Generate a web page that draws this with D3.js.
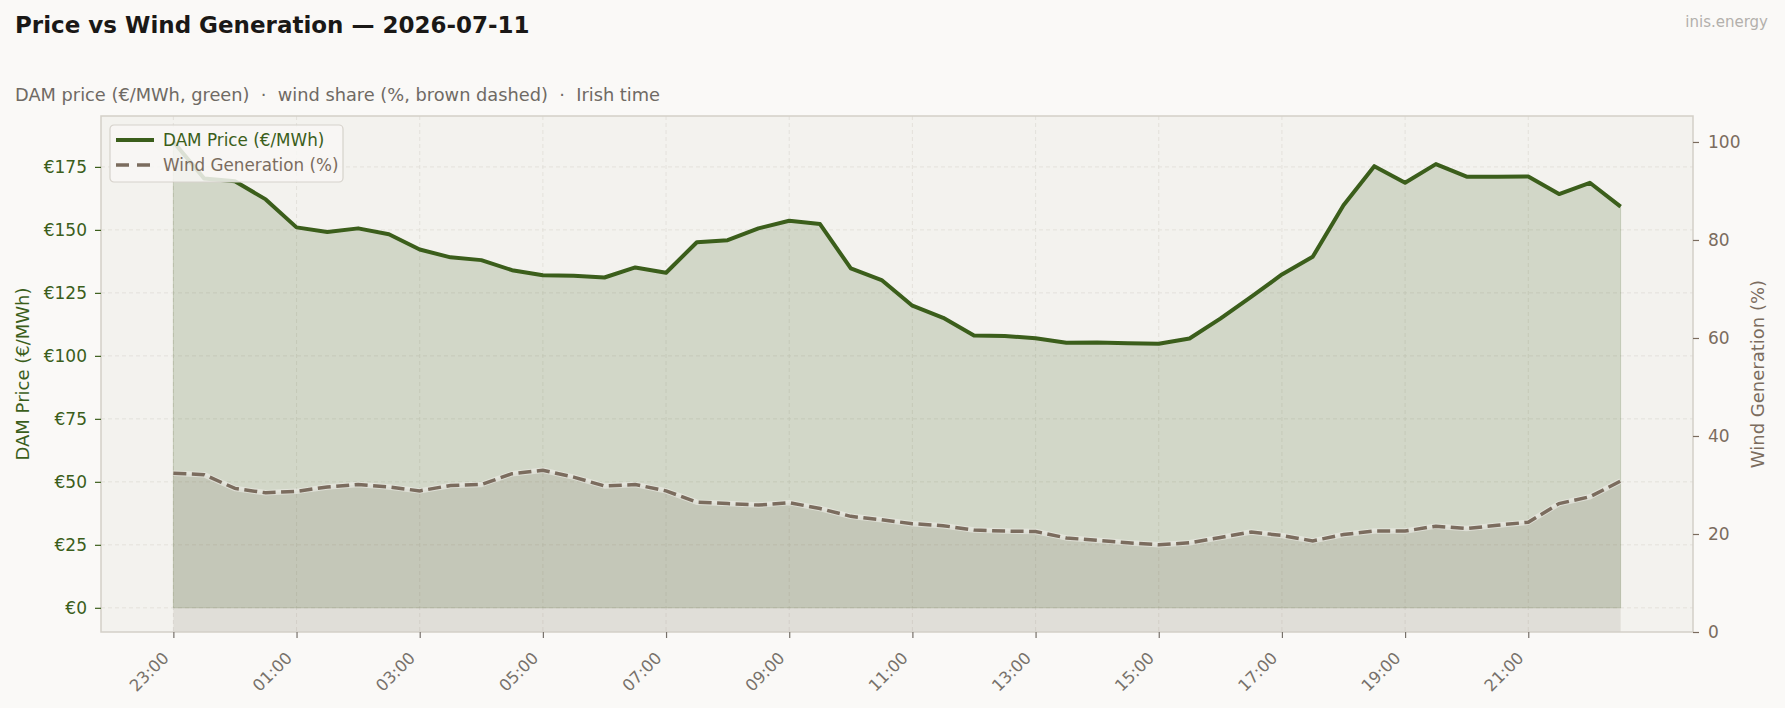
<!DOCTYPE html>
<html>
<head>
<meta charset="utf-8">
<script src="https://cdn.jsdelivr.net/npm/d3@7"></script>
<style>
  body { margin: 0; background: #faf9f7; }
  svg { display: block; font-family: "DejaVu Sans", sans-serif; }
</style>
</head>
<body>
<div id="dvBody"></div>
<script>
// half-hour slots, Irish time
var horas = ["23:00","23:30","00:00","00:30","01:00","01:30","02:00","02:30","03:00","03:30",
  "04:00","04:30","05:00","05:30","06:00","06:30","07:00","07:30","08:00","08:30",
  "09:00","09:30","10:00","10:30","11:00","11:30","12:00","12:30","13:00","13:30",
  "14:00","14:30","15:00","15:30","16:00","16:30","17:00","17:30","18:00","18:30",
  "19:00","19:30","20:00","20:30","21:00","21:30","22:00","22:30"];

// DAM price (€/MWh)
var precios = [185.0, 170.4, 169.3, 162.1, 151.0, 149.2, 150.6, 148.3, 142.2, 139.1,
  138.0, 134.0, 132.0, 131.8, 131.1, 135.1, 133.0, 145.1, 145.9, 150.6,
  153.6, 152.3, 134.7, 130.1, 119.9, 115.1, 108.1, 107.9, 107.0, 105.2,
  105.3, 105.0, 104.8, 106.9, 114.8, 123.4, 132.3, 139.3, 159.8, 175.3,
  168.7, 176.1, 171.1, 171.1, 171.2, 164.2, 168.7, 159.2];

// wind share (%)
var eolica = [32.4, 32.1, 29.3, 28.4, 28.7, 29.6, 30.1, 29.6, 28.8, 29.9,
  30.1, 32.3, 33.0, 31.6, 29.8, 30.1, 28.8, 26.5, 26.2, 25.9,
  26.4, 25.2, 23.6, 22.9, 22.1, 21.7, 20.8, 20.6, 20.5, 19.2,
  18.7, 18.2, 17.8, 18.2, 19.3, 20.4, 19.7, 18.6, 19.9, 20.6,
  20.6, 21.6, 21.1, 21.8, 22.4, 26.2, 27.6, 30.8];

// tick labels
var ticksPrecio = [0, 25, 50, 75, 100, 125, 150, 175];
var ticksEolica = [0, 20, 40, 60, 80, 100];
var ticksHora = ["23:00","01:00","03:00","05:00","07:00","09:00","11:00","13:00","15:00","17:00","19:00","21:00"];

var verde = "#3b5e1b", marron = "#7b6c5e", gris = "#77716a";

var W = 1785, H = 708;
var margin = {top: 116, right: 92, bottom: 76, left: 101},
    width = W - margin.left - margin.right,
    height = H - margin.top - margin.bottom;

var datos = horas.map(function(h, i) { return {hora: h, i: i, precio: precios[i], eolica: eolica[i]}; });

var svg = d3.select("#dvBody")
  .append("svg")
  .attr("width", W)
  .attr("height", H);

// titles
svg.append("text")
  .attr("x", 15).attr("y", 33)
  .style("font-size", "23px").style("font-weight", "bold").attr("fill", "#1a1816")
  .text("Price vs Wind Generation \u2014 2026-07-11");

svg.append("text")
  .attr("x", 15).attr("y", 101)
  .style("font-size", "17.8px").style("white-space", "pre").attr("fill", "#6f6a64")
  .text("DAM price (\u20ac/MWh, green)  \u00b7  wind share (%, brown dashed)  \u00b7  Irish time");

svg.append("text")
  .attr("x", 1768).attr("y", 27)
  .attr("text-anchor", "end")
  .style("font-size", "15px").attr("fill", "#b3b0ac")
  .text("inis.energy");

var g = svg.append("g")
  .attr("transform", "translate(" + margin.left + "," + margin.top + ")");

// scales
var x = d3.scaleLinear().domain([-2.35, 49.35]).range([0, width]);
var yPrecio = d3.scaleLinear().domain([-9.6, 195.2]).range([height, 0]);
var yEolica = d3.scaleLinear().domain([0, 105.3]).range([height, 0]);
var xHora = function(lbl) { return x(horas.indexOf(lbl)); };

// plot background
g.append("rect")
  .attr("width", width).attr("height", height)
  .attr("fill", "#f3f2ee");

// grid
g.append("g")
  .selectAll("line")
  .data(ticksHora)
  .join("line")
  .attr("x1", d => xHora(d)).attr("x2", d => xHora(d))
  .attr("y1", 0).attr("y2", height)
  .attr("stroke", "#e0ddd7").attr("stroke-width", 0.8).attr("stroke-dasharray", "4,3");

g.append("g")
  .selectAll("line")
  .data(ticksPrecio)
  .join("line")
  .attr("x1", 0).attr("x2", width)
  .attr("y1", d => yPrecio(d)).attr("y2", d => yPrecio(d))
  .attr("stroke", "#e0ddd7").attr("stroke-width", 0.8).attr("stroke-dasharray", "4,3");

// price area
g.append("path")
  .datum(datos)
  .attr("fill", verde).attr("fill-opacity", 0.18)
  .attr("stroke", verde).attr("stroke-opacity", 0.18).attr("stroke-width", 1)
  .attr("d", d3.area()
    .x(d => x(d.i))
    .y0(yPrecio(0))
    .y1(d => yPrecio(d.precio)));

// wind area
g.append("path")
  .datum(datos)
  .attr("fill", marron).attr("fill-opacity", 0.15)
  .attr("d", d3.area()
    .x(d => x(d.i))
    .y0(yEolica(0))
    .y1(d => yEolica(d.eolica)));

// wind line (light halo + dashes)
var lineaEolica = d3.line().x(d => x(d.i)).y(d => yEolica(d.eolica));
g.append("path")
  .datum(datos)
  .attr("fill", "none").attr("stroke", "#eeede8").attr("stroke-opacity", 0.6)
  .attr("stroke-width", 5.5).attr("stroke-linejoin", "round")
  .attr("d", lineaEolica);
g.append("path")
  .datum(datos)
  .attr("fill", "none").attr("stroke", marron)
  .attr("stroke-width", 3.5).attr("stroke-dasharray", "13,5.5")
  .attr("d", lineaEolica);

// price line
g.append("path")
  .datum(datos)
  .attr("fill", "none").attr("stroke", verde)
  .attr("stroke-width", 4).attr("stroke-linejoin", "round")
  .attr("d", d3.line().x(d => x(d.i)).y(d => yPrecio(d.precio)));

// spines
g.append("rect")
  .attr("width", width).attr("height", height)
  .attr("fill", "none").attr("stroke", "#d3cfc8").attr("stroke-width", 1.5);

// left axis
var ejeIzq = g.append("g")
  .call(d3.axisLeft(yPrecio).tickValues(ticksPrecio).tickSize(6).tickPadding(8)
    .tickFormat(d => "\u20ac" + d));
ejeIzq.select(".domain").remove();
ejeIzq.selectAll("line").attr("stroke", verde).attr("stroke-width", 1.2);
ejeIzq.selectAll("text").attr("fill", verde).style("font-size", "17px")
  .style("font-family", "DejaVu Sans");

// right axis
var ejeDer = g.append("g")
  .attr("transform", "translate(" + width + ",0)")
  .call(d3.axisRight(yEolica).tickValues(ticksEolica).tickSize(6).tickPadding(9));
ejeDer.select(".domain").remove();
ejeDer.selectAll("line").attr("stroke", marron).attr("stroke-width", 1.2);
ejeDer.selectAll("text").attr("fill", marron).style("font-size", "17px")
  .style("font-family", "DejaVu Sans");

// bottom axis
var ejeX = g.append("g")
  .attr("transform", "translate(0," + height + ")")
  .call(d3.axisBottom(x).tickValues(ticksHora.map(h => horas.indexOf(h))).tickSize(6)
    .tickFormat(d => horas[d]));
ejeX.select(".domain").remove();
ejeX.selectAll("line").attr("stroke", gris).attr("stroke-width", 1.2);
ejeX.selectAll("text")
  .attr("fill", gris).style("font-size", "16.4px").style("font-family", "DejaVu Sans")
  .attr("text-anchor", "end")
  .attr("x", -4).attr("y", 27).attr("dy", 0)
  .attr("transform", "rotate(-45,-4,27)");

// axis titles
svg.append("text")
  .attr("transform", "translate(29," + (margin.top + height / 2) + ") rotate(-90)")
  .attr("text-anchor", "middle")
  .style("font-size", "18px").attr("fill", verde)
  .text("DAM Price (\u20ac/MWh)");

svg.append("text")
  .attr("transform", "translate(1764," + (margin.top + height / 2) + ") rotate(-90)")
  .attr("text-anchor", "middle")
  .style("font-size", "18px").attr("fill", marron)
  .text("Wind Generation (%)");

// legend
var leyenda = g.append("g").attr("transform", "translate(9,9)");
leyenda.append("rect")
  .attr("width", 233).attr("height", 57).attr("rx", 4)
  .attr("fill", "#f8f7f5").attr("fill-opacity", 0.85)
  .attr("stroke", "#d6d2cb").attr("stroke-width", 1.2);
leyenda.append("line")
  .attr("x1", 6).attr("x2", 44).attr("y1", 15).attr("y2", 15)
  .attr("stroke", verde).attr("stroke-width", 4);
leyenda.append("text")
  .attr("x", 53).attr("y", 21)
  .style("font-size", "16.8px").attr("fill", verde)
  .text("DAM Price (\u20ac/MWh)");
leyenda.append("line")
  .attr("x1", 6).attr("x2", 44).attr("y1", 40).attr("y2", 40)
  .attr("stroke", marron).attr("stroke-width", 3.5).attr("stroke-dasharray", "13,8");
leyenda.append("text")
  .attr("x", 53).attr("y", 46)
  .style("font-size", "16.8px").attr("fill", marron)
  .text("Wind Generation (%)");
</script>
</body>
</html>
